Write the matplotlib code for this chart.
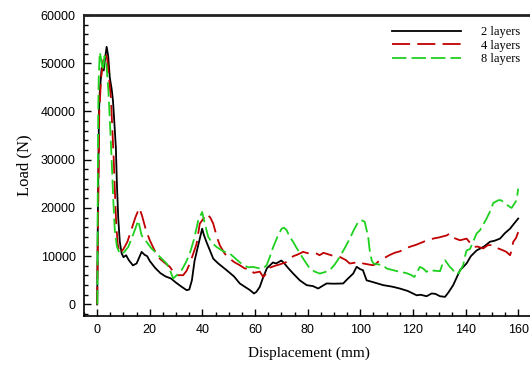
import matplotlib
matplotlib.use("Agg")
import matplotlib.pyplot as plt
from matplotlib.ticker import MultipleLocator

# load-displacement curves (mm, N)
x_2 = [0, 0.3, 0.7, 1.0, 1.7, 2.5, 3.0, 3.6, 4.2, 4.8, 5.5, 6.0, 6.5, 7.1, 7.5, 8.0, 8.6, 9.3,
       10.0, 11, 12, 13.6, 15, 16.9, 18, 19, 20, 21, 22, 24, 26, 28, 30, 32, 34, 35, 36, 37,
       38.5, 39.9, 40.5, 41.5, 43, 44.1, 46, 49.2, 52, 54.2, 56, 58, 59.6, 60.5, 61.8, 63,
       64.5, 66.8, 68, 70, 71, 72.5, 74.5, 77, 79.6, 82, 84, 85.5, 87.2, 90, 93.5, 95, 97.3,
       98.6, 100, 101, 102.4, 105, 108.7, 112, 115, 118, 121.4, 123, 125.2, 127.1, 128.5,
       130.3, 132.2, 133.5, 135.3, 137.9, 140.4, 142, 144.2, 147, 149.3, 151, 153.1, 155,
       156.9, 158.5, 160]
y_2 = [0, 20000, 40000, 44000, 49000, 48500, 51000, 53400, 51500, 47000, 44700, 42300, 38000,
       32600, 25000, 18000, 13000, 10600, 9800, 10200, 9200, 8100, 8500, 10900, 10300, 10000,
       9000, 8300, 7600, 6500, 5800, 5400, 4500, 3700, 2960, 3100, 5000, 9000, 12500, 15700,
       14500, 13000, 11000, 9500, 8500, 7100, 5800, 4350, 3700, 3000, 2270, 2600, 3640, 5500,
       7500, 8700, 8500, 9100, 8600, 7600, 6400, 5000, 4000, 3800, 3300, 3800, 4350, 4300,
       4350, 5200, 6400, 7800, 7300, 7100, 5000, 4600, 4000, 3700, 3300, 2800, 1900, 2000,
       1700, 2270, 2200, 1700, 1570, 2500, 4000, 7100, 8500, 10000, 11200, 12000, 13000,
       13200, 13650, 14800, 15700, 16800, 17800]

x_4 = [0, 0.4, 0.8, 1.5, 2.3, 3.2, 3.8, 4.5, 5.2, 5.8, 6.3, 6.7, 7.2, 7.8, 8.6, 10, 11.5, 13,
       14.5, 16, 17, 18.5, 20, 22, 23.8, 25.5, 27.6, 29, 30.2, 32.7, 34, 35.2, 36.5, 37.8,
       39.0, 40, 41.6, 43, 44.1, 45.5, 46.6, 48.5, 50.4, 52, 54.2, 56.1, 58, 59.5, 61.8, 63.1,
       64.4, 65.6, 67.5, 69.4, 72, 74.5, 76, 78.3, 79.5, 81, 83.4, 84.5, 86, 87.2, 89.5, 92.2,
       94.5, 96, 97.3, 99.8, 101, 103, 104.8, 105.6, 107.5, 108.7, 111, 113, 115, 118, 121.4,
       124.5, 127.7, 130, 132.8, 134, 135.5, 137.9, 140.4, 141.5, 142.9, 144.5, 146.7, 148.5,
       150.5, 152, 154.3, 155.5, 156.9, 157.5, 158.1, 159.2, 160]
y_4 = [0, 20000, 40000, 47000, 50500, 52000, 51000, 47000, 43000, 36000, 30000, 24000, 17000,
       12500, 10550, 11500, 13000, 15500, 18000, 20000, 18500, 15500, 13300, 11000, 9500,
       8700, 7800, 6700, 6060, 6060, 7000, 8480, 10500, 12600, 16760, 17500, 18800, 18000,
       16760, 14000, 12270, 10500, 9500, 8800, 8130, 7450, 7450, 6540, 6800, 5700, 6500, 7600,
       8000, 8300, 8800, 10000, 10300, 10900, 10700, 10500, 10550, 10200, 10700, 10500,
       10100, 9850, 9200, 8480, 8600, 8800, 8500, 8300, 8130, 8300, 9170, 9500, 10200, 10700,
       11000, 11800, 12400, 13100, 13650, 13900, 14300, 14700, 13800, 13300, 13650, 12900,
       11900, 12000, 11600, 12300, 12270, 11700, 11200, 10900, 10200, 11200, 12950, 13800,
       15000]

x_8 = [0.1, 0.2, 0.4, 0.6, 1.0, 1.6, 2.2, 2.8, 3.5, 4.3, 5.0, 5.5, 6.1, 6.7, 7.5, 8.6, 10,
       11.8, 13, 14.3, 15.6, 16.2, 16.9, 18.8, 20.5, 22.6, 24.5, 26.4, 27.8, 28.9, 30.5, 32.1,
       33.7, 35.2, 36.8, 38.4, 39.9, 40.8, 42.2, 43.8, 45.4, 48, 50.4, 53, 55.5, 57.5, 59.3,
       61.8, 63.2, 64.4, 65.5, 66.9, 68.5, 70.1, 71, 72, 73.2, 74.5, 75.8, 77.1, 79, 80.8,
       82.7, 84.6, 86.5, 88.4, 90.3, 92.2, 94.1, 96, 97.6, 99.2, 99.8, 100.8, 101.7, 103,
       103.5, 104.3, 105, 106.8, 108.7, 110, 112.5, 115, 117.5, 119.5, 120.5, 121.5, 122.6,
       123.9, 125.2, 125.8, 128, 130.3, 131.5, 132.2, 134, 134.7, 136.6, 137.5, 139.1, 139.8,
       140.4, 141.7, 144.2, 145.5, 148, 149.5, 150.5, 152.4, 153.5, 155.6, 156.9, 157.5,
       159.4, 160]
y_8 = [0, 20000, 40000, 47000, 52300, 50500, 48500, 51500, 50000, 44000, 36000, 30000, 22000,
       15400, 12000, 10550, 10700, 11900, 13500, 15400, 17400, 16000, 14300, 12950, 11700,
       10550, 9500, 8480, 6900, 5380, 6200, 7100, 8700, 10550, 13500, 17400, 19160, 17000,
       14000, 12700, 11900, 11000, 10550, 9300, 8130, 7700, 7780, 7450, 7500, 8130, 9700,
       11900, 14000, 15700, 15900, 15400, 14000, 12950, 11700, 10550, 8900, 7450, 6800, 6400,
       6700, 7100, 8300, 9850, 11700, 13650, 15500, 17100, 17400, 17400, 17100, 14000, 11500,
       9170, 8480, 8300, 8130, 7450, 7100, 6750, 6500, 6060, 5700, 6500, 7780, 7450, 6750,
       7100, 7000, 6900, 8800, 9170, 7800, 7450, 6200, 6600, 8130, 10000, 11200, 11500, 14700,
       15400, 17800, 19500, 21000, 21600, 21600, 20700, 20200, 20000, 21600, 24000]

labels = ["2 layers", "4 layers", "8 layers"]

fig = plt.figure(figsize=(5.3, 3.65), dpi=100)
ax = fig.add_axes([0.1585, 0.1342, 0.849, 0.8247])

ax.plot(x_2, y_2, color="black", lw=1.3, label=labels[0])
ax.plot(x_4, y_4, color="#c00000", lw=1.3, dashes=(10, 4), label=labels[1])
ax.plot(x_8, y_8, color="#1fd11f", lw=1.3, dashes=(8, 2.8), label=labels[2])

ax.set_xlim(-5, 166)
ax.set_ylim(-2400, 60000)
ax.xaxis.set_major_locator(MultipleLocator(20))
ax.xaxis.set_minor_locator(MultipleLocator(5))
ax.yaxis.set_major_locator(MultipleLocator(10000))
ax.yaxis.set_minor_locator(MultipleLocator(2000))

ax.spines["right"].set_visible(False)
ax.spines["top"].set_linewidth(2.0)
ax.spines["top"].set_color("#222222")
ax.spines["left"].set_linewidth(1.2)
ax.spines["bottom"].set_linewidth(1.2)
ax.tick_params(which="both", direction="in", top=False, right=False, width=1.0)
ax.tick_params(which="major", length=5, labelsize=9, pad=6)
ax.tick_params(which="minor", length=3)
for lab in ax.get_xticklabels() + ax.get_yticklabels():
    lab.set_family("Liberation Sans")

ax.set_xlabel("Displacement (mm)", family="Liberation Serif", fontsize=11, labelpad=7)
ax.set_ylabel("Load (N)", family="Liberation Serif", fontsize=12, labelpad=6)

ax.legend(loc="upper right", bbox_to_anchor=(0.995, 1.0), frameon=False,
          prop={"family": "Liberation Serif", "size": 9}, handlelength=5.5,
          handletextpad=1.6, labelspacing=0.12)

fig.savefig("out.png", dpi=100)
